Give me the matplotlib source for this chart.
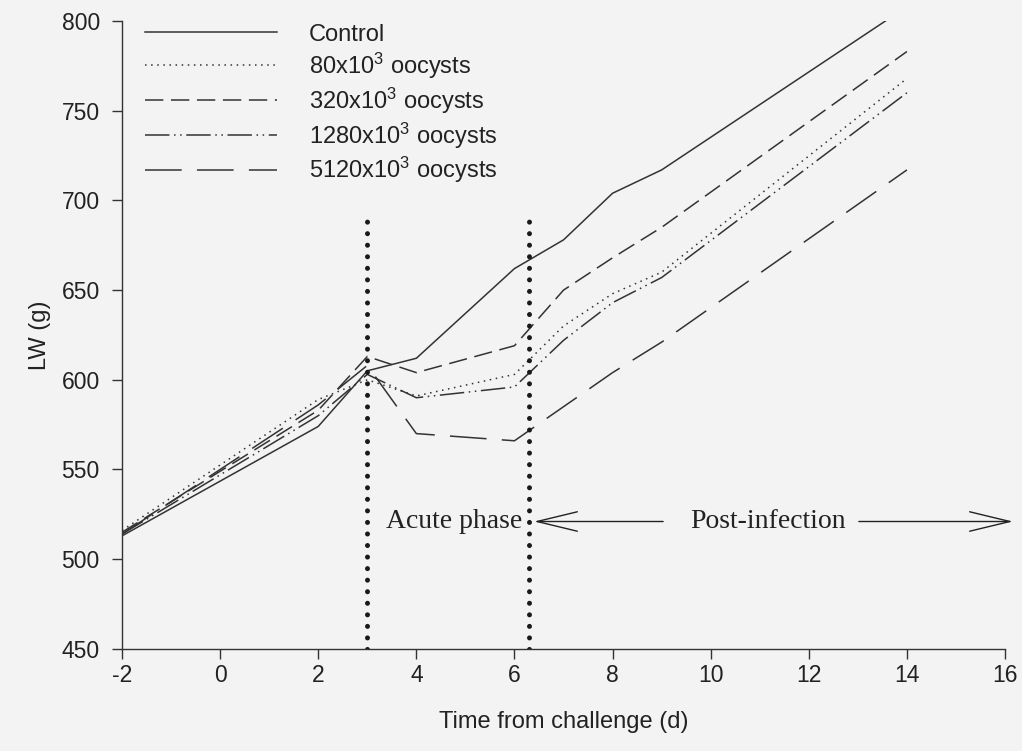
import matplotlib
matplotlib.use("Agg")
import matplotlib.pyplot as plt

plt.rcParams['font.family'] = ['Liberation Sans', 'DejaVu Sans']
plt.rcParams['mathtext.fontset'] = 'custom'
plt.rcParams['mathtext.rm'] = 'Liberation Sans'
plt.rcParams['mathtext.it'] = 'Liberation Sans'
plt.rcParams['axes.unicode_minus'] = False

# days from challenge
days = [-2, 2, 3, 4, 6, 7, 8, 9, 14]

# live weight (g) per group
control = [513, 574, 605, 612, 662, 678, 704, 717, 808]
g80 = [516, 589, 600, 591, 603, 630, 648, 660, 768]
g320 = [515, 583, 613, 604, 619, 650, 668, 685, 783]
g1280 = [514, 580, 603, 590, 596, 622, 643, 657, 760]
g5120 = [514, 586, 608, 570, 566, 585, 604, 621, 717]

labels = ['Control', r'80x10$^3$ oocysts', r'320x10$^3$ oocysts',
          r'1280x10$^3$ oocysts', r'5120x10$^3$ oocysts']

phase_days = [3, 6.3]

bg = '#f3f3f3'
ink = '#333333'
txt = '#222222'

fig = plt.figure(figsize=(10.22, 7.51), dpi=100, facecolor=bg)
ax = fig.add_axes([0.1194, 0.136, 0.864, 0.836], facecolor=bg)

ax.plot(days, control, color=ink, lw=1.1, label=labels[0])
ax.plot(days, g80, color=ink, lw=1.1, dashes=(1, 3), label=labels[1])
ax.plot(days, g320, color=ink, lw=1.1, dashes=(12, 5), label=labels[2])
ax.plot(days, g1280, color=ink, lw=1.1, dashes=(16, 3, 1, 3, 1, 3), label=labels[3])
ax.plot(days, g5120, color=ink, lw=1.1, dashes=(24, 10), label=labels[4])

for d in phase_days:
    ax.plot([d, d], [450, 691], color='#1a1a1a', lw=3.6,
            linestyle=(0, (0.01, 2.3)), dash_capstyle='round')

ax.set_xlim(-2, 16)
ax.set_ylim(450, 800)
ax.set_xticks(range(-2, 17, 2))
ax.set_yticks(range(450, 801, 50))

for s in ['top', 'right']:
    ax.spines[s].set_visible(False)
for s in ['left', 'bottom']:
    ax.spines[s].set_color(ink)
    ax.spines[s].set_linewidth(1.0)
ax.tick_params(direction='out', length=7, width=1, color=ink,
               labelsize=16.5, labelcolor=txt)
ax.tick_params(axis='x', pad=4)
ax.tick_params(axis='y', pad=9)

ax.set_xlabel('Time from challenge (d)', fontsize=17, color=txt)
ax.set_ylabel('LW (g)', fontsize=17, color=txt)
ax.xaxis.set_label_coords(0.5, -0.099)
ax.yaxis.set_label_coords(-0.08, 0.5)

# phase annotations
serif = ['Liberation Serif', 'DejaVu Serif']
ax.text(6.15, 521, 'Acute phase', family=serif,
        fontsize=20, ha='right', va='center', color=txt)
ax.text(11.17, 521, 'Post-infection', family=serif,
        fontsize=20, ha='center', va='center', color=txt)
arrow = dict(arrowstyle='->,head_length=2.9,head_width=0.7', lw=1.0,
             color=txt, shrinkA=0, shrinkB=0, mutation_scale=10)
ax.annotate('', xy=(6.4, 521), xytext=(9.03, 521), arrowprops=arrow,
            annotation_clip=False)
ax.annotate('', xy=(16.16, 521), xytext=(13.02, 521), arrowprops=arrow,
            annotation_clip=False)

ax.legend(loc='upper left', bbox_to_anchor=(0.007, 1.022), frameon=False,
          fontsize=17, handlelength=5.6, handletextpad=1.35,
          labelspacing=0.2, borderaxespad=0.3, labelcolor=txt)

fig.savefig('out.png', dpi=100, facecolor=bg)
